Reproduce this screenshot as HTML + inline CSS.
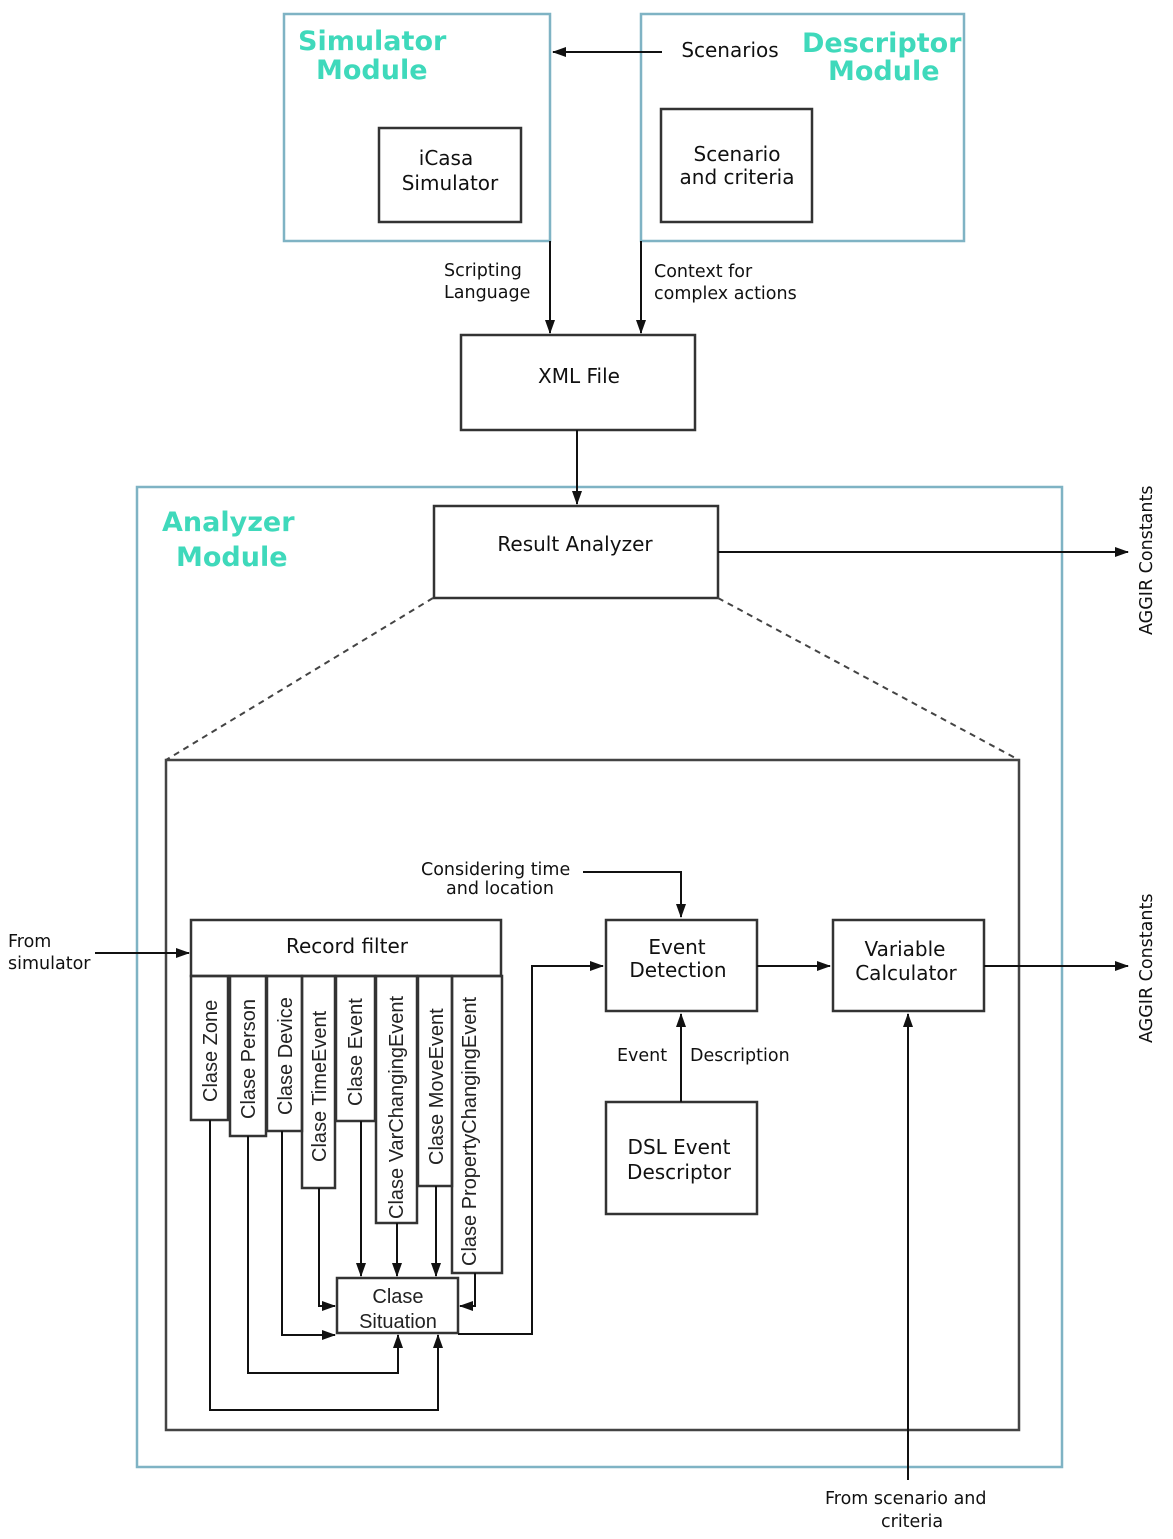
<!DOCTYPE html>
<html><head><meta charset="utf-8"><style>
html,body{margin:0;padding:0;background:#fff}
svg{display:block}
text{font-family:"DejaVu Sans","Liberation Sans",sans-serif;fill:#111}
.t{font-family:"DejaVu Sans",sans-serif;font-weight:bold;fill:#3fd9bb}
.c{font-family:"Liberation Sans",sans-serif;font-size:20px;fill:#222}
</style></head><body>
<svg width="1173" height="1539" viewBox="0 0 1173 1539" xmlns="http://www.w3.org/2000/svg">
<defs>
<marker id="a" markerWidth="10" markerHeight="10" refX="9" refY="5" orient="auto" markerUnits="userSpaceOnUse">
<path d="M0,1 L10,5 L0,9 z" fill="#111"/></marker>
<marker id="b" markerWidth="14" markerHeight="12" refX="13" refY="6" orient="auto" markerUnits="userSpaceOnUse">
<path d="M0,1 L14,6 L0,11 z" fill="#111"/></marker>
</defs>
<g fill="none" stroke-width="2.5" stroke="#7fb3c4">
<rect x="284" y="14" width="266" height="227"/>
<rect x="641" y="14" width="323" height="227"/>
<rect x="137" y="487" width="925" height="980"/>
</g>
<g fill="none" stroke="#333" stroke-width="2.5">
<rect x="379" y="128" width="142" height="94"/>
<rect x="661" y="109" width="151" height="113"/>
<rect x="461" y="335" width="234" height="95"/>
<rect x="434" y="506" width="284" height="92"/>
<rect x="166" y="760" width="853" height="670" stroke-width="2.5" stroke="#444"/>
<rect x="606" y="920" width="151" height="91"/>
<rect x="833" y="920" width="151" height="91"/>
<rect x="606" y="1102" width="151" height="112"/>
<rect x="191" y="920" width="310" height="56"/>
<rect x="191" y="976" width="37" height="144"/>
<rect x="230" y="976" width="36" height="160"/>
<rect x="267" y="976" width="35" height="155"/>
<rect x="302" y="976" width="33" height="212"/>
<rect x="336" y="976" width="39" height="145"/>
<rect x="376" y="976" width="41" height="247"/>
<rect x="418" y="976" width="34" height="210"/>
<rect x="452" y="976" width="50" height="297"/>
<rect x="337" y="1278" width="121" height="55"/>
</g>
<g fill="none" stroke="#444" stroke-width="2" stroke-dasharray="6,5">
<line x1="433" y1="598" x2="166" y2="760"/>
<line x1="718" y1="598" x2="1019" y2="760"/>
</g>
<g fill="none" stroke="#111" stroke-width="2">
<line x1="662" y1="52" x2="553" y2="52" marker-end="url(#b)"/>
<line x1="550" y1="241" x2="550" y2="333" marker-end="url(#b)"/>
<line x1="641" y1="241" x2="641" y2="333" marker-end="url(#b)"/>
<line x1="577" y1="430" x2="577" y2="504" marker-end="url(#b)"/>
<line x1="718" y1="552" x2="1128" y2="552" marker-end="url(#b)"/>
<line x1="984" y1="966" x2="1128" y2="966" marker-end="url(#b)"/>
<line x1="757" y1="966" x2="830" y2="966" marker-end="url(#b)"/>
<polyline points="583,872 681,872 681,917" marker-end="url(#b)"/>
<line x1="681" y1="1102" x2="681" y2="1014" marker-end="url(#b)"/>
<line x1="908" y1="1480" x2="908" y2="1014" marker-end="url(#b)"/>
<line x1="95" y1="953" x2="189" y2="953" marker-end="url(#b)"/>
<polyline points="458,1334 532,1334 532,966 603,966" marker-end="url(#b)"/>
<polyline points="319,1188 319,1306 335,1306" marker-end="url(#b)"/>
<polyline points="282,1131 282,1335 335,1335" marker-end="url(#b)"/>
<line x1="361" y1="1121" x2="361" y2="1276" marker-end="url(#b)"/>
<line x1="397" y1="1223" x2="397" y2="1276" marker-end="url(#b)"/>
<line x1="436" y1="1186" x2="436" y2="1276" marker-end="url(#b)"/>
<polyline points="475,1273 475,1306 460,1306" marker-end="url(#b)"/>
<polyline points="248,1136 248,1373 398,1373 398,1335" marker-end="url(#b)"/>
<polyline points="210,1120 210,1410 438,1410 438,1335" marker-end="url(#b)"/>
</g>
<text class="t" x="298" y="50" font-size="27">Simulator</text>
<text class="t" x="316" y="79" font-size="27">Module</text>
<text class="t" x="802" y="52" font-size="27">Descriptor</text>
<text class="t" x="828" y="80" font-size="27">Module</text>
<text class="t" x="162" y="531" font-size="27">Analyzer</text>
<text class="t" x="176" y="566" font-size="27">Module</text>
<g font-size="20" text-anchor="middle">
<text x="446" y="165">iCasa</text><text x="450" y="190">Simulator</text>
<text x="737" y="161">Scenario</text><text x="737" y="184">and criteria</text>
<text x="730" y="57">Scenarios</text>
<text x="579" y="383">XML File</text>
<text x="575" y="551">Result Analyzer</text>
<text x="347" y="953">Record filter</text>
<text x="677" y="954">Event</text><text x="678" y="977">Detection</text>
<text x="905" y="956">Variable</text><text x="906" y="980">Calculator</text>
<text x="679" y="1154">DSL Event</text><text x="679" y="1179">Descriptor</text>
</g>
<g font-size="17.5">
<text x="444" y="276">Scripting</text><text x="444" y="298">Language</text>
<text x="654" y="277">Context for</text><text x="654" y="299">complex actions</text>
<text x="421" y="875">Considering time</text><text x="446" y="894">and location</text>
<text x="617" y="1061">Event</text><text x="690" y="1061">Description</text>
<text x="8" y="947">From</text><text x="8" y="969">simulator</text>
<text x="825" y="1504">From scenario and</text><text x="881" y="1527">criteria</text>
<text transform="translate(1152,635) rotate(-90)">AGGIR Constants</text>
<text transform="translate(1152,1043) rotate(-90)">AGGIR Constants</text>
</g>
<text class="c" transform="translate(217,1102) rotate(-90)">Clase Zone</text>
<text class="c" transform="translate(255,1119) rotate(-90)">Clase Person</text>
<text class="c" transform="translate(292,1115) rotate(-90)">Clase Device</text>
<text class="c" transform="translate(326,1162) rotate(-90)">Clase TimeEvent</text>
<text class="c" transform="translate(362,1106) rotate(-90)">Clase Event</text>
<text class="c" transform="translate(403,1219) rotate(-90)">Clase VarChangingEvent</text>
<text class="c" transform="translate(443,1165) rotate(-90)">Clase MoveEvent</text>
<text class="c" transform="translate(476,1266) rotate(-90)">Clase PropertyChangingEvent</text>
<text class="c" x="398" y="1303" text-anchor="middle">Clase</text>
<text class="c" x="398" y="1328" text-anchor="middle">Situation</text>
</svg>
</body></html>
